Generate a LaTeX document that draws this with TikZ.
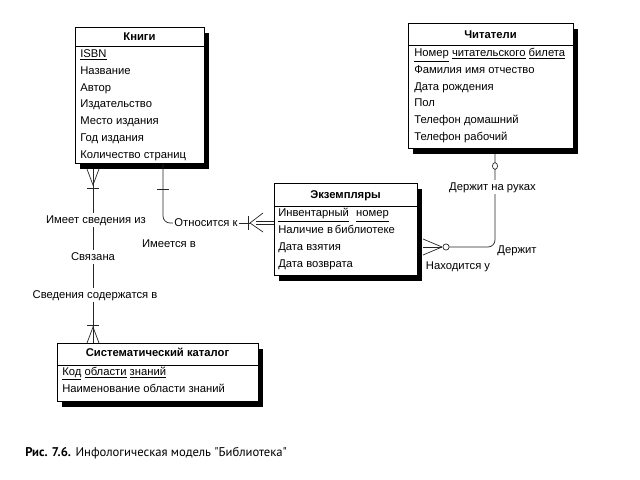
\documentclass[tikz,border=0pt]{standalone}
\usepackage{fontspec}
\setmainfont{Liberation Sans}
\newfontfamily\capfont{PT Sans}
\usetikzlibrary{positioning, calc, shadows}

\tikzset{
  entity/.style={draw, fill=white, line width=0.7pt, anchor=north west, inner sep=0pt,
    drop shadow={shadow xshift=3.2pt, shadow yshift=-3.6pt, fill=black, opacity=1}},
  enttitle/.style={font=\fontsize{8}{10}\selectfont\bfseries, inner sep=0pt, anchor=base},
  attr/.style={font=\fontsize{8}{10}\selectfont, inner sep=0pt, anchor=base west},
  relname/.style={font=\fontsize{8}{10}\selectfont, fill=white, inner sep=1pt,
    text height=6pt, text depth=1.5pt},
  link/.style={line width=0.5pt, black!85},
  headline/.style={line width=0.7pt},
}

\begin{document}
\begin{tikzpicture}[x=0.025cm, y=-0.025cm]
      \useasboundingbox (0,0) rectangle (640,480);

      % Книги
      \node[entity, minimum width=3.225cm, minimum height=3.4cm] (knigi) at (75,27) {};
      \node[enttitle] (knigi-t) at (139.5,40) {Книги};
      \draw[headline] ($(knigi.north west)+(0,19)$) -- ($(knigi.north east)+(0,19)$);
      \node[attr] (knigi-1) at (80,57.5) {\underline{ISBN}};
      \node[attr] (knigi-2) at (80,74.3) {Название};
      \node[attr] (knigi-3) at (80,91.1) {Автор};
      \node[attr] (knigi-4) at (80,107.9) {Издательство};
      \node[attr] (knigi-5) at (80,124.7) {Место издания};
      \node[attr] (knigi-6) at (80,141.5) {Год издания};
      \node[attr] (knigi-7) at (80,158.3) {Количество страниц};

      % Читатели
      \node[entity, minimum width=4.125cm, minimum height=3.125cm] (chit) at (408,23) {};
      \node[enttitle] (chit-t) at (490.5,38.5) {Читатели};
      \draw[headline] ($(chit.north west)+(0,22)$) -- ($(chit.north east)+(0,22)$);
      \node[attr] (chit-1) at (414,56.5) {\underline{Номер}\ \underline{читательского}\ \underline{билета}};
      \node[attr] (chit-2) at (414,73.3) {Фамилия имя отчество};
      \node[attr] (chit-3) at (414,90.1) {Дата рождения};
      \node[attr] (chit-4) at (414,106.9) {Пол};
      \node[attr] (chit-5) at (414,123.7) {Телефон домашний};
      \node[attr] (chit-6) at (414,140.5) {Телефон рабочий};

      % Экземпляры
      \node[entity, minimum width=3.575cm, minimum height=2.3cm] (ekz) at (274,183) {};
      \node[enttitle] (ekz-t) at (345.5,198.5) {Экземпляры};
      \draw[headline] ($(ekz.north west)+(0,23)$) -- ($(ekz.north east)+(0,23)$);
      \node[attr] (ekz-1) at (278,216.5) {\underline{Инвентарный}\hspace{5pt}\underline{номер}};
      \node[attr] (ekz-2) at (278,233.5) {Наличие в\,библиотеке};
      \node[attr] (ekz-3) at (278,250.5) {Дата взятия};
      \node[attr] (ekz-4) at (278,267.5) {Дата возврата};

      % Систематический каталог
      \node[entity, minimum width=5.025cm, minimum height=1.45cm] (sist) at (57,343) {};
      \node[enttitle] (sist-t) at (157.5,356.5) {Систематический каталог};
      \draw[headline] ($(sist.north west)+(0,22)$) -- ($(sist.north east)+(0,22)$);
      \node[attr] (sist-1) at (62,375.5) {\underline{Код}\ \underline{области}\ \underline{знаний}};
      \node[attr] (sist-2) at (62,392.5) {Наименование области знаний};

      % Книги -- Систематический каталог
      \coordinate (kt) at ($(knigi.south west)+(18,5)$);
      \coordinate (sb) at ($(sist.north west)+(36,0)$);
      \draw[link] (kt) -- (sb);
      \draw[link] ($(kt)+(-6,0)$) -- ($(kt)+(0,16)$) -- ($(kt)+(6,0)$);
      \draw[link] ($(kt)+(-6,19)$) -- ($(kt)+(6,19)$);
      \draw[link] ($(sb)+(-6,0)$) -- ($(sb)+(0,-16)$) -- ($(sb)+(6,0)$);
      \draw[link] ($(sb)+(-6,-18)$) -- ($(sb)+(6,-18)$);
      \node[relname] (imeet) at (96,220) {Имеет сведения из};
      \node[relname] (svyaz) at (93,257) {Связана};
      \node[relname] (sved) at (95,295) {Сведения содержатся в};

      % Книги -- Экземпляры
      \node[relname] (otn) at (206,223) {Относится к};
      \coordinate (kb) at ($(knigi.south west)+(88,0)$);
      \coordinate (ekzl) at (ekz.west |- otn.east);
      \draw[link, rounded corners=5pt] (kb) |- (otn.west);
      \draw[link] ($(kb)+(-6,25)$) -- ($(kb)+(6,25)$);
      \draw[link] (otn.east) -- ($(ekzl)+(-24,0)$);
      \draw[link] ($(ekzl)+(-26,-7)$) -- ($(ekzl)+(-26,7)$);
      \draw[link] ($(ekzl)+(-11,-10)$) -- ($(ekzl)+(-24,0)$) -- ($(ekzl)+(-11,9)$);
      \draw[link, double, double distance=1.6pt] ($(ekzl)+(-18,0)$) -- (ekzl);
      \node[relname, fill=none] (imeetsya) at (169,244) {Имеется в};

      % Читатели -- Экземпляры
      \coordinate (chb) at ($(chit.south west)+(87,5)$);
      \coordinate (ekzr) at ($(ekz.north east)+(5,64)$);
      \draw[link, rounded corners=5pt] (chb) |- ($(ekzr)+(23,0)$);
      \draw[link] ($(ekzr)+(19,0)$) -- ($(ekzr)+(0,-8)$);
      \draw[link] ($(ekzr)+(19,0)$) -- (ekzr);
      \draw[link] ($(ekzr)+(19,0)$) -- ($(ekzr)+(0,8)$);
      \draw[link, fill=white] ($(ekzr)+(23,0)$) circle (2.2pt);
      \draw[link, fill=white] ($(chb)+(0,12)$) ellipse (1.8pt and 2.4pt);
      \node[relname] (derzhr) at (492.5,187) {Держит на руках};
      \node[relname, fill=none] (derzh) at (517,250) {Держит};
      \node[relname, fill=none] (nahod) at (458,266) {Находится у};

      % Подпись
      \node[anchor=base west, inner sep=0pt, font=\capfont\fontsize{9}{10}\selectfont] (cap)
           at (25,456) {\textbf{Рис. 7.6.} Инфологическая модель "Библиотека"};
    \end{tikzpicture}
\end{document}
